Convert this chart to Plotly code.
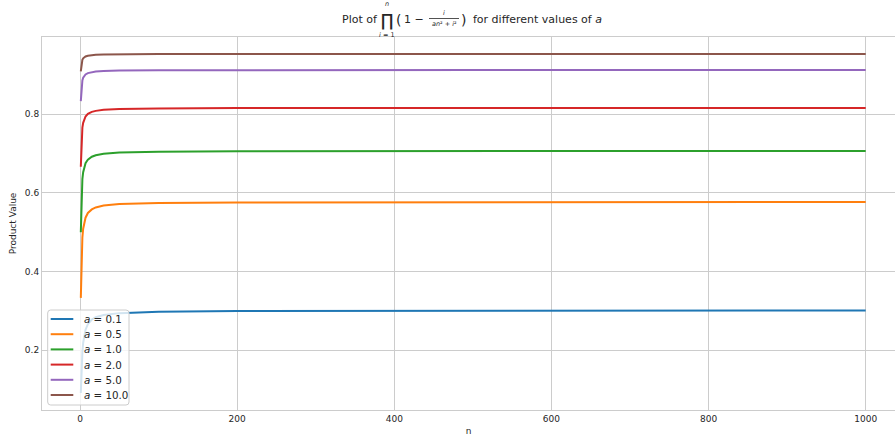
import plotly.graph_objects as go

# sample n values and product values (estimated)
n_vals = [1, 2, 3, 4, 5, 7, 10, 15, 20, 30, 50, 100, 200, 500, 1000]
a_labels = ["0.1", "0.5", "1.0", "2.0", "5.0", "10.0"]
y_a01 = [0.091, 0.156, 0.195, 0.219, 0.234, 0.252, 0.266, 0.278, 0.2836, 0.2894, 0.2942, 0.2978, 0.2997, 0.3008, 0.3011]
y_a05 = [0.333, 0.444, 0.487, 0.509, 0.522, 0.537, 0.549, 0.558, 0.563, 0.5677, 0.5716, 0.5745, 0.5759, 0.5768, 0.5771]
y_a1 = [0.500, 0.600, 0.635, 0.6526, 0.6631, 0.6754, 0.6848, 0.6921, 0.6959, 0.6996, 0.7026, 0.7048, 0.7060, 0.7066, 0.7069]
y_a2 = [0.6667, 0.7407, 0.7659, 0.7782, 0.7857, 0.7944, 0.8010, 0.8061, 0.8087, 0.8113, 0.8134, 0.8149, 0.8157, 0.8162, 0.8163]
y_a5 = [0.8333, 0.8730, 0.8863, 0.8929, 0.8969, 0.9014, 0.9048, 0.9075, 0.9089, 0.9102, 0.9113, 0.9121, 0.9125, 0.9127, 0.9128]
y_a10 = [0.9091, 0.9314, 0.9387, 0.9424, 0.9446, 0.9471, 0.9490, 0.9505, 0.9513, 0.9520, 0.9526, 0.9531, 0.9533, 0.9534, 0.9534]
series = [y_a01, y_a05, y_a1, y_a2, y_a5, y_a10]
colors = ["#1f77b4", "#ff7f0e", "#2ca02c", "#d62728", "#9467bd", "#8c564b"]

FONT = "DejaVu Sans"
TXT = "#262626"
GRID = "#cccccc"

W, H = 895, 440
L, R, T, B = 42, 0, 37, 30
PW, PH = W - L - R, H - T - B

fig = go.Figure()
for lab, ys, c in zip(a_labels, series, colors):
    fig.add_trace(go.Scatter(x=n_vals, y=ys, mode="lines", line=dict(color=c, width=2),
                             name=f"<i>a</i> = {lab}"))


def px(x):
    return (x - L) / PW


def py(y):
    return (H - B - y) / PH


ann = []


def add(text, x, y, size, xanchor="center"):
    ann.append(dict(text=text, x=px(x), y=py(y), xref="paper", yref="paper", showarrow=False,
                    xanchor=xanchor, yanchor="middle", font=dict(family=FONT, size=size, color=TXT)))


TS = 11
add("Plot of", 340, 20, TS, "left")
add("∏", 387, 20, 17)
add("<i>n</i>", 387, 4, 6.5)
add("<i>i</i> = 1", 387, 35, 6.5)
add("(", 398, 19.5, 14)
add("1 −", 414, 20, TS)
add("<i>i</i>", 444, 13, 6.5)
add("<i>an</i>² + <i>i</i>²", 444, 24, 6.5)
add(")", 463, 19.5, 14)
add("for different values of <i>a</i>", 471, 20, TS, "left")

shapes = [dict(type="line", xref="paper", yref="paper", x0=px(429), x1=px(459),
               y0=py(18.5), y1=py(18.5), line=dict(color=TXT, width=0.8))]

# manual legend (matplotlib-like compact spacing)
lx0, lx1, ly0, ly1, rr = 47.7, 129, 310, 405, 3
rx, ry = rr / PW, rr / PH
X0, X1, Y0, Y1 = px(lx0), px(lx1), py(ly1), py(ly0)
path = (f"M{X0+rx},{Y0} L{X1-rx},{Y0} Q{X1},{Y0} {X1},{Y0+ry} L{X1},{Y1-ry} Q{X1},{Y1} {X1-rx},{Y1} "
        f"L{X0+rx},{Y1} Q{X0},{Y1} {X0},{Y1-ry} L{X0},{Y0+ry} Q{X0},{Y0} {X0+rx},{Y0} Z")
shapes.append(dict(type="path", path=path, xref="paper", yref="paper", layer="above",
                   fillcolor="rgba(255,255,255,0.8)", line=dict(color=GRID, width=1)))
for k, (lab, c) in enumerate(zip(a_labels, colors)):
    yy = 319 + 15.2 * k
    shapes.append(dict(type="line", xref="paper", yref="paper", layer="above",
                       x0=px(50.7), x1=px(73.3), y0=py(yy), y1=py(yy), line=dict(color=c, width=2)))
    add(f"<i>a</i> = {lab}", 81.7, yy, 10.3, "left")

fig.update_layout(
    width=W, height=H,
    margin=dict(l=L, r=R, t=T, b=B),
    paper_bgcolor="white", plot_bgcolor="white",
    font=dict(family=FONT, size=9, color=TXT),
    annotations=ann,
    shapes=shapes,
    showlegend=False,
)
fig.update_xaxes(range=[-48.4, 1037.3], tickvals=[0, 200, 400, 600, 800, 1000],
                 showgrid=True, gridcolor=GRID, gridwidth=1, zeroline=False,
                 showline=True, linecolor=GRID, linewidth=1, mirror=True,
                 ticks="", tickfont=dict(size=9, color=TXT),
                 title=dict(text="n", font=dict(size=9, color=TXT), standoff=4))
fig.update_yaxes(range=[0.0478, 0.9966], tickvals=[0.2, 0.4, 0.6, 0.8], tickformat=".1f",
                 showgrid=True, gridcolor=GRID, gridwidth=1, zeroline=False,
                 showline=True, linecolor=GRID, linewidth=1,
                 ticks="", tickfont=dict(size=9, color=TXT),
                 title=dict(text="Product Value", font=dict(size=9, color=TXT), standoff=6))

fig.write_html("out.html")
